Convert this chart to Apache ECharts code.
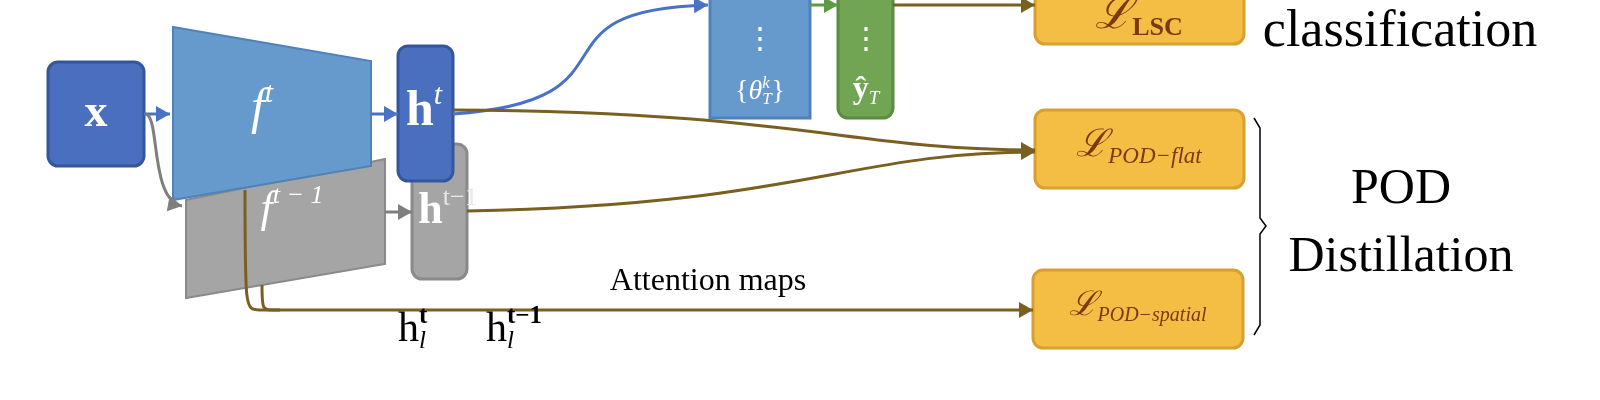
<!DOCTYPE html>
<html>
<head>
<meta charset="utf-8">
<script src="https://cdn.jsdelivr.net/npm/echarts@6/dist/echarts.min.js"></script>
<style>html,body{margin:0;padding:0;background:#fff}#c{width:1600px;height:400px}</style>
</head>
<body>
<div id="c"></div>
<script>
// diagram geometry in pixel units of the 1600x400 picture
const boxes = [
  // kind, x0, y0, x1, y1
  ['dark', 48, 62, 144, 166],
  ['gray', 412, 144, 467, 279],
  ['dark', 398, 46, 453, 181],
  ['mid', 710, -10, 810, 118],
  ['green', 838, -10, 893, 118],
  ['loss', 1035, -10, 1244, 44],
  ['loss', 1035, 110, 1244, 188],
  ['loss', 1033, 270, 1243, 348]
];
const quads = [
  ['gray', [[186, 200], [385, 159], [385, 264], [186, 298]]],
  ['mid', [[173, 27], [371, 61], [371, 166], [173, 200]]]
];
// kind, start, ctrl1, ctrl2, end, arrow
const links = [
  ['blue', [144, 114], [150, 114], [160, 114], [170, 114], true],
  ['blue', [371, 114], [380, 114], [388, 114], [398, 114], true],
  ['grayl', [146, 114], [160, 118], [150, 200], [182, 206], true],
  ['grayl', [385, 212], [395, 212], [402, 212], [412, 212], true],
  ['blue', [453, 114], [650, 100], [520, 10], [708, 5], true],
  ['green', [810, 5], [820, 5], [828, 5], [838, 5], true],
  ['gold', [893, 5], [950, 5], [1000, 5], [1035, 5], true],
  ['gold', [453, 110], [800, 112], [850, 150], [1035, 150], true],
  ['gold', [467, 211], [800, 205], [850, 152], [1035, 152], true],
  ['gold', [245, 190], [245, 315], [245, 310], [262, 310], false],
  ['gold', [262, 285], [262, 312], [262, 310], [280, 310], false],
  ['gold', [262, 310], [600, 310], [900, 310], [1033, 310], true]
];
// parts [text, kind], centre x, centre y, size, colour
// kinds: n normal, i italic, b bold, p sup, q sub, p0 sup without advance, g faded sup
const labels = [
  [[['x', 'b']], 96, 114, 46, '#fff'],
  [[['f', 'i'], ['t', 'p']], 262, 110, 50, '#fff'],
  [[['f', 'i'], ['t − 1', 'p']], 292, 210, 44, '#fff'],
  [[['h', 'b'], ['t', 'p']], 424, 112, 50, '#fff'],
  [[['h', 'b'], ['t−1', 'g']], 448, 212, 44, '#fff'],
  [[['⋮', 'n']], 760, 40, 30, '#fff'],
  [[['{', 'n'], ['θ', 'i'], ['k', 'p0'], ['T', 'q'], ['}', 'n']], 760, 92, 28, '#fff'],
  [[['⋮', 'n']], 866, 40, 30, '#fff'],
  [[['ŷ', 'b'], ['T', 'q']], 866, 90, 32, '#fff'],
  [[['ℒ', 'i'], ['LSC', 'qb']], 1139, 16, 44, '#7a3a10'],
  [[['ℒ', 'i'], ['POD−flat', 'q']], 1139, 146, 38, '#7a3a10'],
  [[['ℒ', 'i'], ['POD−spatial', 'q']], 1138, 306, 34, '#7a3a10'],
  [[['classification', 'n']], 1400, 32, 52, '#000'],
  [[['POD', 'n']], 1401, 190, 50, '#000'],
  [[['Distillation', 'n']], 1401, 258, 50, '#000'],
  [[['Attention maps', 'n']], 708, 282, 32, '#000'],
  [[['h', 'n'], ['t', 'p0b'], ['l', 'q']], 412, 330, 42, '#000'],
  [[['h', 'n'], ['t−1', 'p0b'], ['l', 'q']], 500, 330, 42, '#000']
];
const brace = [[1254, 118], [1266, 226], [1254, 335]];

const fills = {
  dark: ['#4a6fbe', '#35569c'], gray: ['#a5a5a5', '#8a8a8a'], mid: ['#6699cc', '#4f82b8'],
  green: ['#72a553', '#5b8c40'], loss: ['#f4bd44', '#d9a030']
};
const strokes = { blue: '#4a72c4', grayl: '#7f7f7f', green: '#5f9a45', gold: '#7a6020' };
const serif = '"Liberation Serif", "DejaVu Serif", serif';

const chart = echarts.init(document.getElementById('c'));
const xy = (api, p) => api.coord(p);
const ctx = document.createElement('canvas').getContext('2d');

function partFont(kind, size) {
  const small = /^[pqg]/.test(kind);
  const s = small ? size * 0.6 : size;
  const it = kind === 'i' || kind === 'p' || kind === 'q' || kind === 'p0' ? 'italic ' : '';
  const bd = kind === 'b' || kind.endsWith('b') ? 'bold ' : '';
  return `${it}${bd}${Math.round(s)}px ${serif}`;
}

function arrowHead(api, a, b, color) {
  const p = xy(api, b), q = xy(api, a);
  const ang = Math.atan2(p[1] - q[1], p[0] - q[0]);
  const L = 14, W = 8;
  const bx = p[0] - L * Math.cos(ang), by = p[1] - L * Math.sin(ang);
  return {
    type: 'polygon',
    shape: { points: [p, [bx + W * Math.sin(ang), by - W * Math.cos(ang)], [bx - W * Math.sin(ang), by + W * Math.cos(ang)]] },
    style: { fill: color }
  };
}

chart.setOption({
  animation: false,
  grid: { left: 0, right: 0, top: 0, bottom: 0 },
  xAxis: { type: 'value', min: 0, max: 1600, show: false },
  yAxis: { type: 'value', min: 0, max: 400, inverse: true, show: false },
  series: [
    {
      type: 'custom', z: 1,
      data: quads.map(q => q[1][0]),
      renderItem(params, api) {
        const [kind, pts] = quads[params.dataIndex];
        return { type: 'polygon', shape: { points: pts.map(p => xy(api, p)) },
          style: { fill: fills[kind][0], stroke: fills[kind][1], lineWidth: 2 } };
      }
    },
    {
      type: 'custom', z: 2,
      data: boxes.map(b => [b[1], b[2]]),
      renderItem(params, api) {
        const [kind, x0, y0, x1, y1] = boxes[params.dataIndex];
        const a = xy(api, [x0, y0]), b = xy(api, [x1, y1]);
        const r = kind === 'mid' ? 0 : 10;
        return { type: 'rect', shape: { x: a[0], y: a[1], width: b[0] - a[0], height: b[1] - a[1], r },
          style: { fill: fills[kind][0], stroke: fills[kind][1], lineWidth: 3 } };
      }
    },
    {
      type: 'custom', z: 3,
      data: links.map(l => l[1]),
      renderItem(params, api) {
        const [kind, s, c1, c2, e, arrow] = links[params.dataIndex];
        const p = [s, c1, c2, e].map(v => xy(api, v));
        const col = strokes[kind];
        const children = [{
          type: 'bezierCurve',
          shape: { x1: p[0][0], y1: p[0][1], cpx1: p[1][0], cpy1: p[1][1], cpx2: p[2][0], cpy2: p[2][1], x2: p[3][0], y2: p[3][1] },
          style: { stroke: col, lineWidth: 3, fill: null }
        }];
        if (arrow) children.push(arrowHead(api, c2, e, col));
        return { type: 'group', children };
      }
    },
    {
      type: 'custom', z: 4,
      data: [brace[0]],
      renderItem(params, api) {
        const [t, m, b] = brace.map(p => xy(api, p));
        const x = t[0] + 6;
        return { type: 'polyline', shape: { points: [t, [x, t[1] + 10], [x, m[1] - 8], m, [x, m[1] + 8], [x, b[1] - 10], b] },
          style: { stroke: '#000', lineWidth: 1.5, fill: null } };
      }
    },
    {
      type: 'custom', z: 5,
      data: labels.map(l => [l[1], l[2]]),
      renderItem(params, api) {
        const [parts, x, y, size, color] = labels[params.dataIndex];
        const p = xy(api, [x, y]);
        const widths = parts.map(([t, k]) => { ctx.font = partFont(k, size); return ctx.measureText(t).width; });
        let total = 0;
        parts.forEach(([t, k], i) => { if (!k.startsWith('p0')) total += widths[i]; });
        let cx = p[0] - total / 2;
        const children = parts.map(([t, k], i) => {
          let dy = 0, fill = color;
          if (k[0] === 'p' || k === 'g') dy = -size * 0.32;
          if (k[0] === 'q') dy = size * 0.28;
          if (k === 'g') fill = '#e8e8e8';
          const el = { type: 'text', x: cx, y: p[1] + dy,
            style: { text: t, font: partFont(k, size), fill, align: 'left', verticalAlign: 'middle' } };
          if (!k.startsWith('p0')) cx += widths[i];
          return el;
        });
        return { type: 'group', children };
      }
    }
  ]
});
</script>
</body>
</html>
